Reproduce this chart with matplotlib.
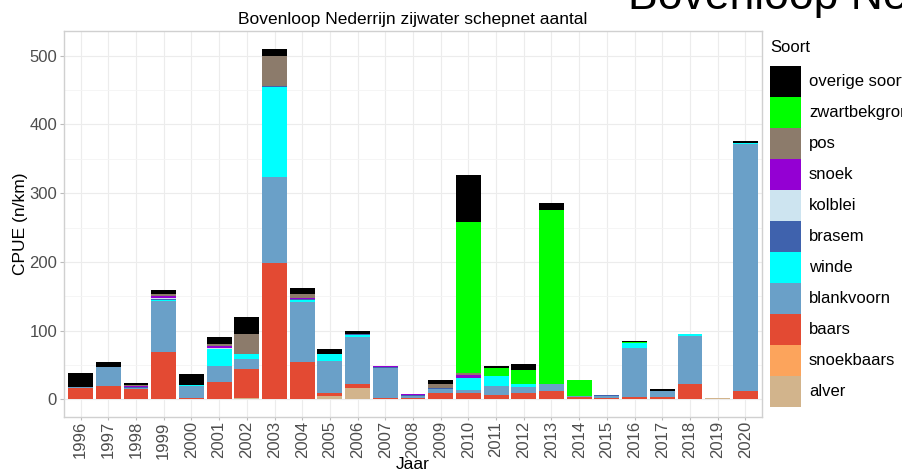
import numpy as np
import matplotlib
matplotlib.use("Agg")
import matplotlib.pyplot as plt
from matplotlib.patches import Rectangle

plt.rcParams['font.family'] = ['Liberation Sans', 'DejaVu Sans']

W, H = 902, 473

years = [str(y) for y in range(1996, 2021)]

# stacking order, bottom to top
soorten = ["alver", "snoekbaars", "baars", "blankvoorn", "winde", "brasem",
           "kolblei", "snoek", "pos", "zwartbekgrondel", "overige soorten"]
kleuren = ["#d2b48c", "#fca45c", "#e34a33", "#6aa0c8", "#00ffff", "#3f62ad",
           "#cde4f0", "#9400d3", "#8c7b6b", "#00ff00", "#000000"]

alver      = [0, 0, 0, 1, 1, 0, 2, 0, 0, 5, 17, 0, 0, 0, 0, 0, 0, 0, 0, 0, 0, 0, 0, 2, 1]
snoekbaars = [0, 0, 0, 0, 0, 0, 0, 0, 0, 0, 0, 0, 0, 0, 0, 0, 0, 0, 0, 0, 0, 0, 0, 0, 0]
baars      = [16, 19, 15, 68, 1, 25, 43, 198, 54, 4, 5.5, 2, 1.5, 10, 9, 7, 10, 13, 4, 2, 4, 3, 22, 0, 11]
blankvoorn = [2, 28, 2, 74, 18, 23.5, 14.5, 126, 88, 47, 68, 44, 3, 5, 5, 12.5, 8.5, 10, 1, 3, 71, 10, 70, 0, 359]
winde      = [0, 0, 0, 2, 1, 24.5, 6.5, 131, 3, 9.5, 4, 0, 0, 0, 17, 15, 3.5, 0, 0, 0, 7, 0, 3, 0, 1.5]
brasem     = [0, 0, 1, 1, 0, 1, 0, 1, 1, 1, 1, 1, 2, 1, 0, 0, 0, 0, 0, 1.5, 0, 0, 0, 0, 0]
kolblei    = [0, 0, 0, 1, 0, 1, 0, 0, 0, 0, 0, 0, 0, 0, 0, 0, 0, 0, 0, 0, 0, 0, 0, 0, 0]
snoek      = [0, 0, 2, 3, 0, 3, 0, 0, 1, 0, 0, 2, 1, 0, 4, 0, 0, 0, 0, 0, 0, 0, 0, 0, 0]
pos        = [0, 0, 1, 3, 0, 3, 29, 43, 6, 0, 0, 0, 0, 6, 4, 0, 0, 0, 0, 0, 0, 0, 0, 0, 0]
zwartbek   = [0, 0, 0, 0, 0, 0, 0, 0, 0, 0, 0, 0, 0, 0, 219, 12, 21, 253, 23, 0, 2, 0, 0, 0, 1]
overige    = [20, 7, 2.5, 6, 16, 9.5, 24.5, 11, 9, 7, 4, 0, 0, 6, 68.5, 2, 8, 10, 0, 0, 1, 2, 0, 0, 3]

reeksen = [alver, snoekbaars, baars, blankvoorn, winde, brasem,
           kolblei, snoek, pos, zwartbek, overige]

fig = plt.figure(figsize=(W / 100, H / 100), dpi=100)
ax = fig.add_axes([64 / W, 1 - 417 / H, (762 - 64) / W, (417 - 31) / H])

x = np.arange(len(years))
bottom = np.zeros(len(years))
for naam, kleur, vals in zip(soorten, kleuren, reeksen):
    vals = np.array(vals, dtype=float)
    ax.bar(x, vals, width=0.9, bottom=bottom, color=kleur, linewidth=0, zorder=3)
    bottom += vals

ax.set_xlim(-0.6, len(years) - 0.4)
ax.set_ylim(-25.5, 536)
ax.set_xticks(x)
ax.set_xticklabels(years, rotation=90, fontsize=12, color="#4d4d4d")
ax.set_yticks([0, 100, 200, 300, 400, 500])
ax.set_yticks([50, 150, 250, 350, 450], minor=True)
ax.tick_params(axis="y", labelsize=12, labelcolor="#4d4d4d", length=3, color="#bbbbbb", pad=2)
ax.tick_params(axis="x", length=2, color="#bbbbbb", pad=1)
ax.tick_params(axis="y", which="minor", length=0)
ax.grid(True, which="major", color="#ececec", linewidth=0.8, zorder=0)
ax.grid(True, which="minor", axis="y", color="#f4f4f4", linewidth=0.6, zorder=0)
for s in ax.spines.values():
    s.set_color("#d0d0d0")
    s.set_linewidth(1.0)

ax.set_ylabel("CPUE (n/km)", fontsize=12.5, labelpad=1)
ax.set_xlabel("Jaar", fontsize=12.5, labelpad=-1)
ax.set_title("Bovenloop Nederrijn zijwater schepnet aantal", fontsize=12.5, pad=5)

# big cut-off heading at top right
fig.text(628 / W, 1 - 9 / H, "Bovenloop Nederrijn zijwater", fontsize=32, va="baseline", ha="left")

# legend drawn by hand, top entry = last series
fig.text(770 / W, 1 - 48 / H, "Soort", fontsize=12, va="center", ha="left")
key_top, key_h, key_w = 66, 31, 31
for i, (naam, kleur) in enumerate(zip(soorten[::-1], kleuren[::-1])):
    y0 = key_top + i * key_h
    fig.add_artist(Rectangle((770 / W, 1 - (y0 + key_h) / H), key_w / W, key_h / H,
                             transform=fig.transFigure, facecolor=kleur, edgecolor="none"))
    fig.text(809 / W, 1 - (y0 + key_h / 2) / H, naam, fontsize=12, va="center", ha="left")

fig.savefig("out.png", dpi=100)
